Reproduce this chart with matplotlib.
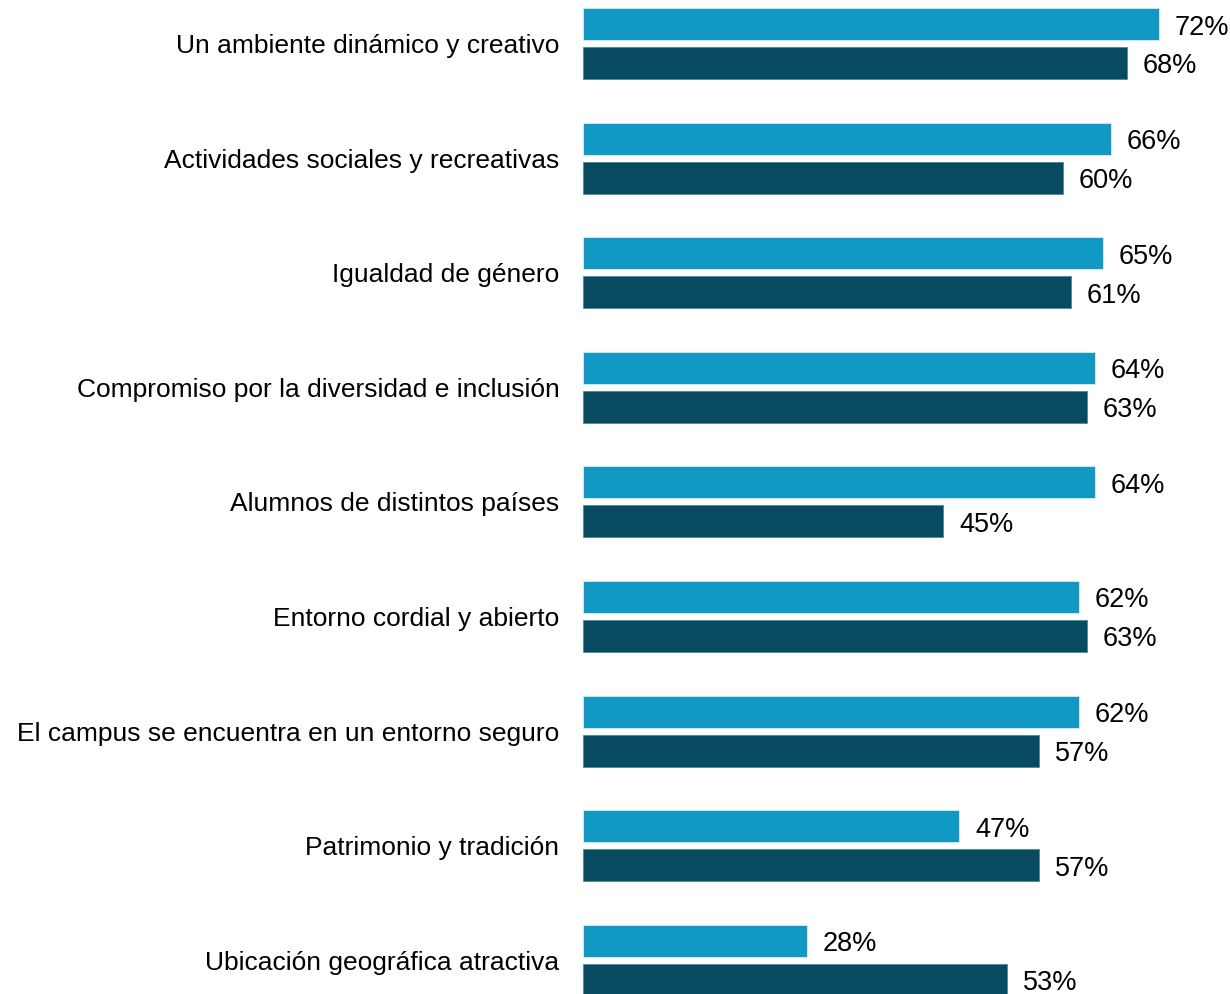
import matplotlib
matplotlib.use("Agg")
import matplotlib.pyplot as plt
import numpy as np

plt.rcParams['font.family'] = ['Liberation Sans', 'DejaVu Sans']

categories = [
    "Un ambiente dinámico y creativo",
    "Actividades sociales y recreativas",
    "Igualdad de género",
    "Compromiso por la diversidad e inclusión",
    "Alumnos de distintos países",
    "Entorno cordial y abierto",
    "El campus se encuentra en un entorno seguro",
    "Patrimonio y tradición",
    "Ubicación geográfica atractiva",
]
series_a = [72, 66, 65, 64, 64, 62, 62, 47, 28]
series_b = [68, 60, 61, 63, 45, 63, 57, 57, 53]

color_a = "#1199C4"
color_b = "#084A60"

fig = plt.figure(figsize=(12.3, 9.94), dpi=100)
ax = fig.add_axes([583 / 1230, 0, (1230 - 583) / 1230, 1])

y = np.arange(len(categories))
h = 0.279
off = 0.170
ax.barh(y - off, series_a, height=h, color=color_a, edgecolor="#d6eef5", linewidth=0.6)
ax.barh(y + off, series_b, height=h, color=color_b, edgecolor="#4d8a9c", linewidth=0.6)

for yy, v in zip(y - off, series_a):
    ax.text(v + 2.0, yy + 0.03, f"{v}%", va="center", ha="left", fontsize=19.5, color="black")
for yy, v in zip(y + off, series_b):
    ax.text(v + 2.0, yy + 0.03, f"{v}%", va="center", ha="left", fontsize=19.5, color="black")

ax.set_yticks(y)
ax.set_yticklabels(categories, fontsize=19)
ax.tick_params(axis='y', length=0, pad=17)
ax.set_xticks([])
for s in ax.spines.values():
    s.set_visible(False)

ax.set_xlim(0, 647 / 8)
ax.set_ylim(8.294, -0.380)

fig.savefig("out.png", dpi=100)
